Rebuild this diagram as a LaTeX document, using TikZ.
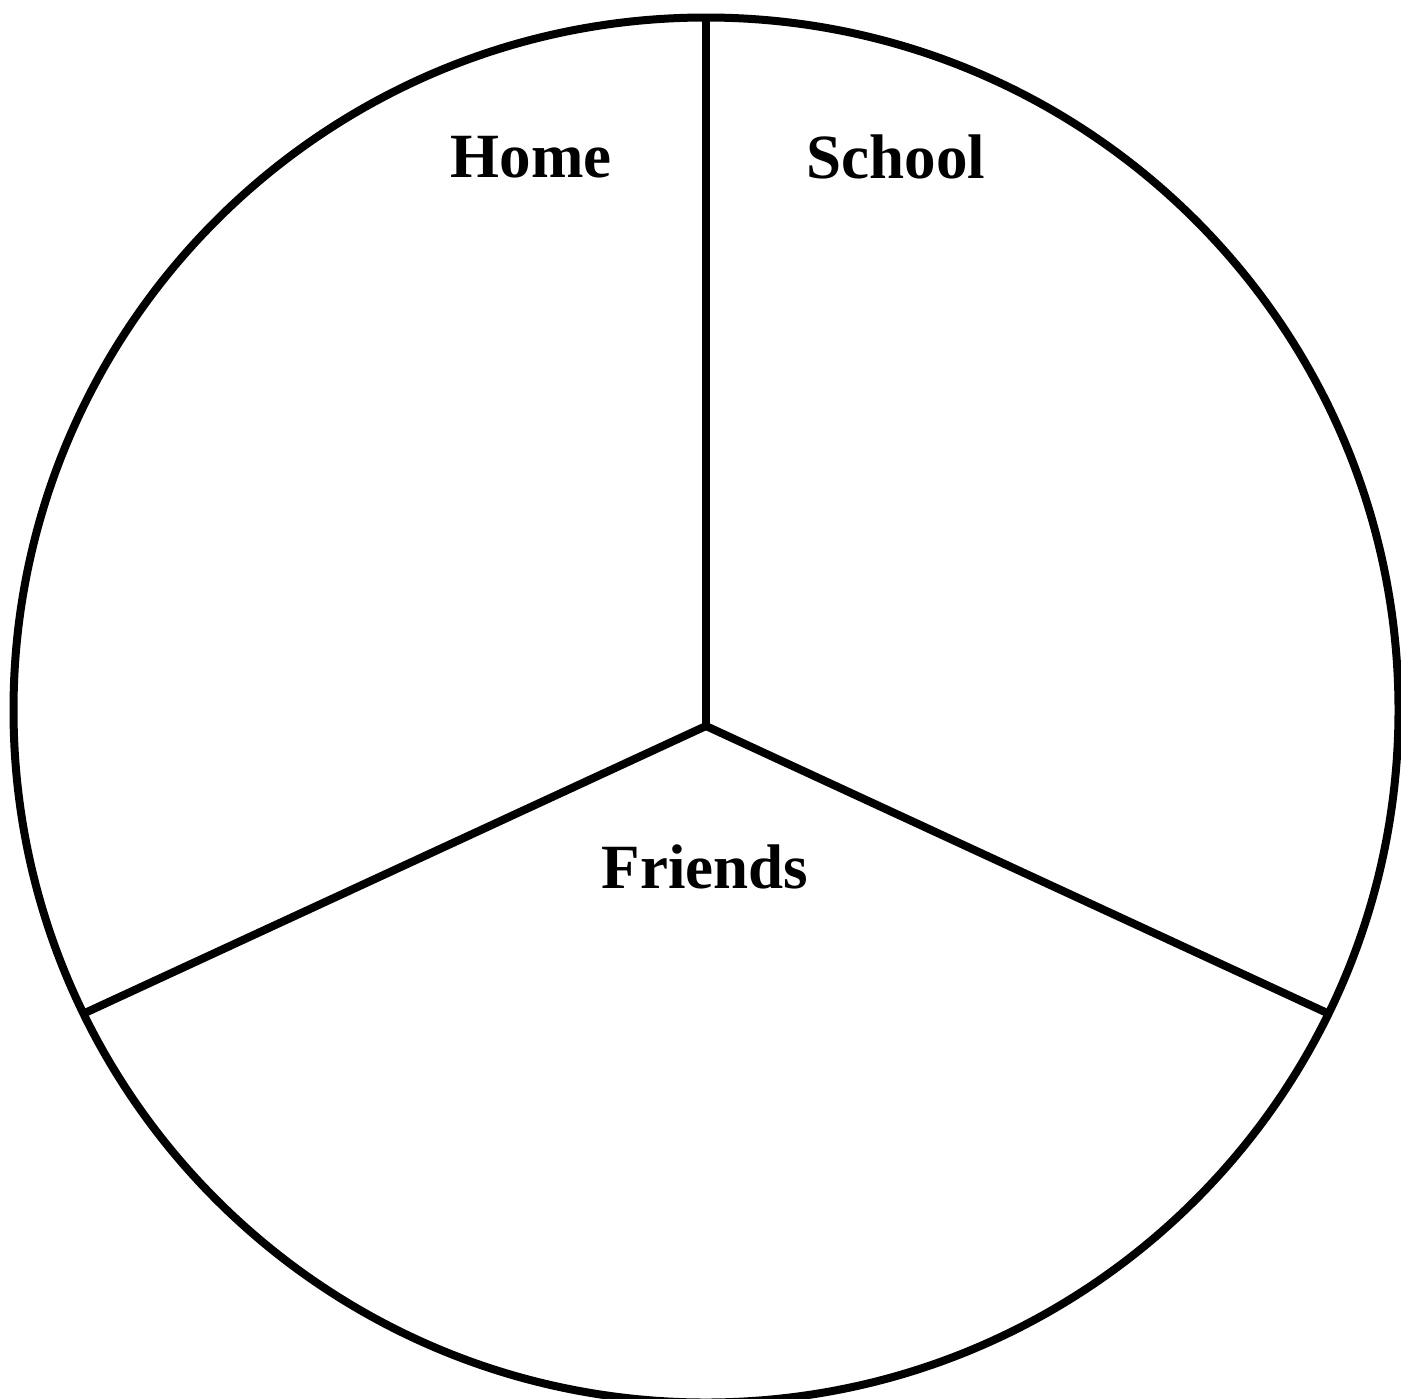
\documentclass[tikz,border=0pt]{standalone}
\usepackage{fontspec}
\setmainfont{Liberation Serif}
\usepackage{tikz}
\usetikzlibrary{positioning}

\begin{document}
\begin{tikzpicture}[x=0.5pt,y=-0.5pt,line width=4pt,
  ring/.style={draw,circle,inner sep=0pt,outer sep=0pt,minimum size=692.5pt},
  sector/.style={font=\fontsize{31.5}{36}\selectfont\bfseries,inner sep=0pt}]
\useasboundingbox (0,0) rectangle (1401,1398);
\node[ring] (ring) at (706,710) {};
\coordinate (hub) at (706,726);
\node[sector] (home) at (531,157) {Home};
\node[sector] (school) at (896,157) {School};
\node[sector] (friends) at (705,867) {Friends};
\draw (ring.north)--(hub);
\draw (hub)--(ring.206.6);
\draw (hub)--(ring.-26.8);
\end{tikzpicture}
\end{document}
